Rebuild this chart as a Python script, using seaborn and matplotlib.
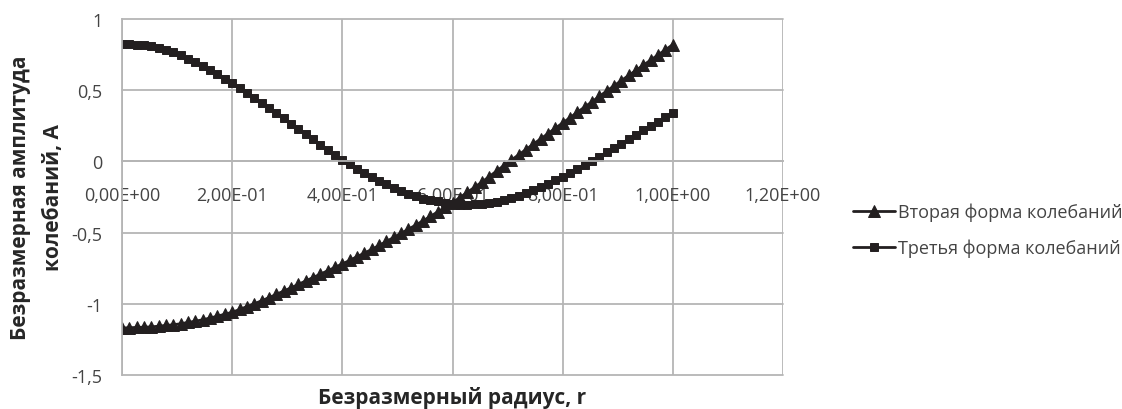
import numpy as np
import pandas as pd
import matplotlib
matplotlib.use("Agg")
import matplotlib.pyplot as plt
import seaborn as sns

# Radial coordinate grid (76 nodes from 0 to 1)
r = np.arange(76) / 75

# Second vibration mode amplitude
second_mode = [
    -1.170, -1.168, -1.166, -1.164, -1.162, -1.157, -1.152, -1.147, -1.140, -1.131,
    -1.122, -1.112, -1.100, -1.087, -1.073,
    -1.060, -1.040, -1.020, -1.000, -0.979, -0.957, -0.934, -0.911, -0.888, -0.864,
    -0.840, -0.816, -0.792, -0.768, -0.744,
    -0.720, -0.695, -0.669, -0.644, -0.618, -0.590, -0.562, -0.534, -0.505, -0.476,
    -0.447, -0.417, -0.386, -0.354, -0.322,
    -0.290, -0.254, -0.218, -0.182, -0.145, -0.107, -0.068, -0.029, 0.009, 0.046,
    0.083, 0.121, 0.158, 0.195, 0.233,
    0.270, 0.307, 0.345, 0.382, 0.419, 0.457, 0.494, 0.531, 0.568, 0.604,
    0.640, 0.676, 0.712, 0.748, 0.784,
    0.820,
]

# Third vibration mode amplitude
third_mode = [
    0.822, 0.821, 0.819, 0.815, 0.809, 0.798, 0.784, 0.768, 0.747, 0.722,
    0.697, 0.671, 0.642, 0.611, 0.581,
    0.550, 0.515, 0.481, 0.446, 0.411, 0.375, 0.339, 0.303, 0.266, 0.229,
    0.192, 0.154, 0.118, 0.082, 0.046,
    0.010, -0.021, -0.051, -0.082, -0.111, -0.137, -0.162, -0.187, -0.209, -0.226,
    -0.243, -0.261, -0.272, -0.281, -0.291,
    -0.300, -0.303, -0.304, -0.302, -0.298, -0.291, -0.282, -0.271, -0.258, -0.242,
    -0.224, -0.204, -0.182, -0.158, -0.134,
    -0.110, -0.082, -0.054, -0.026, 0.003, 0.033, 0.064, 0.095, 0.125, 0.156,
    0.187, 0.217, 0.248, 0.279, 0.309,
    0.340,
]

series_names = ["Вторая форма колебаний", "Третья форма колебаний"]
x_ticks = [0.0, 0.2, 0.4, 0.6, 0.8, 1.0, 1.2]
x_tick_labels = ["0,00E+00", "2,00E-01", "4,00E-01", "6,00E-01", "8,00E-01", "1,00E+00", "1,20E+00"]
y_ticks = [-1.5, -1.0, -0.5, 0.0, 0.5, 1.0]
y_tick_labels = ["-1,5", "-1", "-0,5", "0", "0,5", "1"]

df = pd.DataFrame({
    "r": np.concatenate([r, r]),
    "A": second_mode + third_mode,
    "series": [series_names[0]] * len(r) + [series_names[1]] * len(r),
})

sns.set_theme(style="white")
plt.rcParams["font.family"] = ["Open Sans", "DejaVu Sans"]

ink = "#231f20"
grid_c = "#b5b5b5"
text_c = "#444444"

fig = plt.figure(figsize=(11.22, 4.10), dpi=100)
W, H = 1122, 410
ax = fig.add_axes([122 / W, 1 - 376 / H, (783 - 122) / W, (376 - 20) / H])

styles = {series_names[0]: ("^", 9.0), series_names[1]: ("s", 6.3)}
for name in series_names:
    mk, ms = styles[name]
    sns.lineplot(
        data=df[df["series"] == name], x="r", y="A", ax=ax,
        color=ink, marker=mk, markersize=ms, markeredgewidth=0.7,
        markeredgecolor=ink, linewidth=2.0, label=name, legend=False,
    )

ax.set_xlim(0, 1.2)
ax.set_ylim(-1.5, 1.0)
ax.set_xticks(x_ticks)
ax.set_xticklabels(x_tick_labels)
ax.set_yticks(y_ticks)
ax.set_yticklabels(y_tick_labels)

ax.set_axisbelow(True)
ax.grid(True, color=grid_c, linewidth=1.3)
for gl in ax.get_xgridlines() + ax.get_ygridlines():
    gl.set_clip_on(False)

for side in ["top", "right"]:
    ax.spines[side].set_visible(False)
ax.spines["left"].set_color(grid_c)
ax.spines["left"].set_linewidth(1.3)
ax.spines["bottom"].set_position(("data", 0))
ax.spines["bottom"].set_color(grid_c)
ax.spines["bottom"].set_linewidth(1.3)

ax.tick_params(axis="y", length=5, width=1.3, color=grid_c, pad=9,
               labelsize=13, labelcolor=text_c)
ax.tick_params(axis="x", length=0, pad=18, labelsize=13, labelcolor=text_c)

ax.set_xlabel("Безразмерный радиус, r", fontsize=15, fontweight="bold", color="#262626")
ax.xaxis.set_label_coords(0.5, -0.03)
ax.set_ylabel("Безразмерная амплитуда\nколебаний, А", fontsize=15,
              fontweight="bold", color="#262626", linespacing=1.75)
ax.yaxis.set_label_coords(-0.088, 0.5)

handles, labels = ax.get_legend_handles_labels()
leg = fig.legend(handles, labels, loc="center left",
                 bbox_to_anchor=(853 / W, 1 - 231 / H), frameon=False,
                 fontsize=13, handlelength=2.3, handletextpad=0.2,
                 labelspacing=0.95, borderpad=0, borderaxespad=0)
for t in leg.get_texts():
    t.set_color(text_c)

fig.savefig("out.png", dpi=100)
